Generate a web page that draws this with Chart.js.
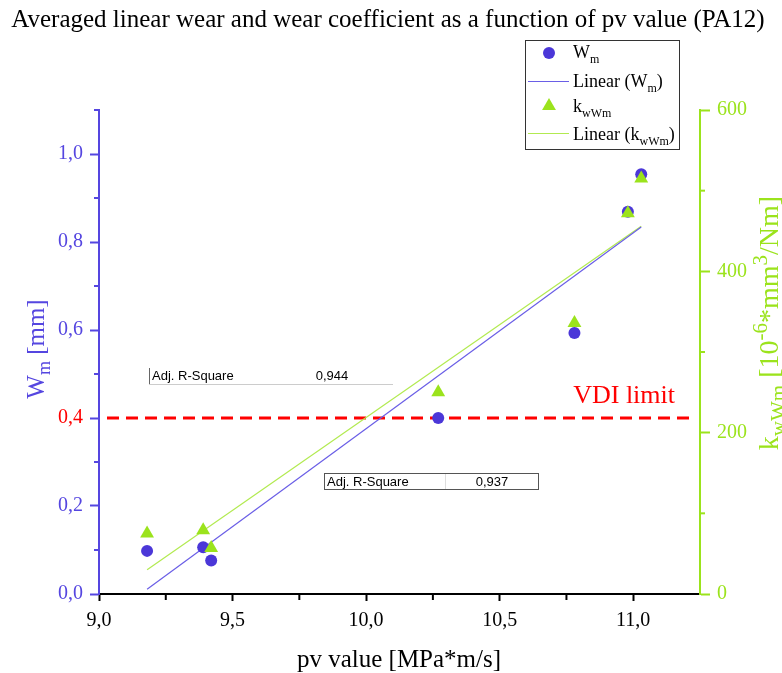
<!DOCTYPE html>
<html>
<head>
<meta charset="utf-8">
<script src="https://cdn.jsdelivr.net/npm/chart.js@4.4.0/dist/chart.umd.min.js"></script>
<style>
  html, body { margin: 0; padding: 0; background: #fff; }
  #wrap { width: 782px; height: 673px; }
</style>
</head>
<body>
<div id="wrap"><canvas id="chart" width="782" height="673"></canvas></div>
<script>
// values
const pvValues = [9.18, 9.39, 9.42, 10.27, 10.78, 10.98, 11.03];
const wearWm = [0.098, 0.106, 0.076, 0.400, 0.593, 0.869, 0.954];
const coeffK = [75, 79, 57, 250, 336, 472, 515];

// linear fits, end points as they are drawn
const fitX = [9.18, 11.03];
const fitWm = [0.011, 0.834];
const fitK = [30, 456];

const vdiLimit = 0.4;
const adjRSquare = ['0,944', '0,937'];

// tick labels
const xTicks = [9.0, 9.5, 10.0, 10.5, 11.0];
const xMinor = [9.25, 9.75, 10.25, 10.75];
const wmTicks = [0, 0.2, 0.4, 0.6, 0.8, 1.0];
const wmMinor = [0.1, 0.3, 0.5, 0.7, 0.9, 1.1];
const kTicks = [0, 200, 400, 600];
const kMinor = [100, 300, 500];

const blue = '#4b37d8';
const blueAxis = '#5546e0';
const blueLine = '#6a5ee6';
const green = '#9be31c';
const greenLine = '#b2ea50';
const red = '#ff0000';
const serif = '"Liberation Serif", "Times New Roman", serif';
const sans = '"Liberation Sans", Arial, sans-serif';

const fmt = (v) => v.toFixed(1).replace('.', ',');
const pts = (xs, ys) => xs.map((x, i) => ({ x: x, y: ys[i] }));

// draws text made of normal / sub / sup parts
const drawRich = (ctx, parts, x, y, size, color, align, ratio) => {
    const small = Math.round(size * (ratio || 0.65));
    const widths = parts.map(([t, k]) => {
        ctx.font = (k === 'n' ? size : small) + 'px ' + serif;
        return ctx.measureText(t).width;
    });
    const total = widths.reduce((a, b) => a + b, 0);
    let cx = align === 'center' ? x - total / 2 : x;
    ctx.fillStyle = color;
    ctx.textAlign = 'left';
    ctx.textBaseline = 'alphabetic';
    parts.forEach(([t, k], i) => {
        ctx.font = (k === 'n' ? size : small) + 'px ' + serif;
        const dy = k === 'sub' ? size * 0.25 : (k === 'sup' ? -size * 0.4 : 0);
        ctx.fillText(t, cx, y + dy);
        cx += widths[i];
    });
    return total;
};

const triangle = (ctx, x, y, r) => {
    ctx.beginPath();
    ctx.moveTo(x, y - r);
    ctx.lineTo(x + r * Math.sin(Math.PI / 3), y + r / 2);
    ctx.lineTo(x - r * Math.sin(Math.PI / 3), y + r / 2);
    ctx.closePath();
    ctx.fill();
};

const overlay = {
    id: 'overlay',
    beforeDatasetsDraw(chart) {
        const { ctx, chartArea, scales } = chart;
        const yy = scales.y.getPixelForValue(vdiLimit);
        ctx.save();
        ctx.strokeStyle = red;
        ctx.lineWidth = 3;
        ctx.setLineDash([12, 7]);
        ctx.beginPath();
        ctx.moveTo(chartArea.left + 8, yy);
        ctx.lineTo(chartArea.right - 9, yy);
        ctx.stroke();
        ctx.restore();
    },
    afterDraw(chart) {
        const { ctx, chartArea, scales } = chart;
        ctx.save();

        // minor ticks
        const minor = (scale, values, len, color, side) => {
            ctx.strokeStyle = color;
            ctx.lineWidth = 2;
            values.forEach((v) => {
                const p = scale.getPixelForValue(v);
                ctx.beginPath();
                if (side === 'bottom') { ctx.moveTo(p, chartArea.bottom); ctx.lineTo(p, chartArea.bottom + len); }
                if (side === 'left') { ctx.moveTo(chartArea.left, p); ctx.lineTo(chartArea.left - len, p); }
                if (side === 'right') { ctx.moveTo(chartArea.right, p); ctx.lineTo(chartArea.right + len, p); }
                ctx.stroke();
            });
        };
        minor(scales.x, xMinor, 6, '#000', 'bottom');
        minor(scales.y, wmMinor, 5, blueAxis, 'left');
        minor(scales.y1, kMinor, 5, green, 'right');

        // title
        ctx.fillStyle = '#000';
        ctx.font = '25px ' + serif;
        ctx.textAlign = 'center';
        ctx.textBaseline = 'alphabetic';
        ctx.fillText('Averaged linear wear and wear coefficient as a function of pv value (PA12)', 388, 27);

        // x axis title
        ctx.font = '25px ' + serif;
        ctx.fillText('pv value [MPa*m/s]', 399, 667);

        // left axis title
        ctx.save();
        ctx.translate(44, 349);
        ctx.rotate(-Math.PI / 2);
        drawRich(ctx, [['W', 'n'], ['m', 'sub'], [' [mm]', 'n']], 0, 0, 25, blueAxis, 'center', 0.7);
        ctx.restore();

        // right axis title
        ctx.save();
        ctx.translate(778, 323);
        ctx.rotate(-Math.PI / 2);
        drawRich(ctx, [['k', 'n'], ['wWm', 'sub'], [' [10', 'n'], ['-6', 'sup'], ['*mm', 'n'], ['3', 'sup'], ['/Nm]', 'n']], 0, 0, 28, green, 'center', 0.75);
        ctx.restore();

        // VDI label
        ctx.fillStyle = red;
        ctx.font = '26px ' + serif;
        ctx.textAlign = 'right';
        ctx.fillText('VDI limit', 675, 403);

        // legend box
        ctx.strokeStyle = '#333';
        ctx.lineWidth = 1;
        ctx.strokeRect(525.5, 40.5, 154, 109);
        ctx.fillStyle = blue;
        ctx.beginPath();
        ctx.arc(549, 53, 6, 0, Math.PI * 2);
        ctx.fill();
        ctx.fillStyle = green;
        triangle(ctx, 549, 106, 8);
        ctx.fillStyle = blueLine;
        ctx.fillRect(528, 81, 41, 1);
        ctx.fillStyle = greenLine;
        ctx.fillRect(528, 133, 41, 1);
        drawRich(ctx, [['W', 'n'], ['m', 'sub']], 573, 58, 18, '#000', 'left');
        drawRich(ctx, [['Linear (W', 'n'], ['m', 'sub'], [')', 'n']], 573, 87, 18, '#000', 'left');
        drawRich(ctx, [['k', 'n'], ['wWm', 'sub']], 573, 112, 18, '#000', 'left');
        drawRich(ctx, [['Linear (k', 'n'], ['wWm', 'sub'], [')', 'n']], 573, 140, 18, '#000', 'left');

        // Adj. R-Square boxes
        ctx.lineWidth = 1;
        ctx.font = '13px ' + sans;
        ctx.textAlign = 'left';
        ctx.fillStyle = '#000';
        ctx.strokeStyle = '#666';
        ctx.beginPath(); ctx.moveTo(149.5, 368); ctx.lineTo(149.5, 384); ctx.stroke();
        ctx.strokeStyle = '#ccc';
        ctx.beginPath(); ctx.moveTo(149, 384.5); ctx.lineTo(393, 384.5); ctx.stroke();
        ctx.fillText('Adj. R-Square', 152, 380);
        ctx.textAlign = 'center';
        ctx.fillText(adjRSquare[0], 332, 380);

        ctx.strokeStyle = '#555';
        ctx.strokeRect(324.5, 473.5, 214, 16);
        ctx.strokeStyle = '#ddd';
        ctx.beginPath(); ctx.moveTo(445.5, 474); ctx.lineTo(445.5, 489); ctx.stroke();
        ctx.textAlign = 'left';
        ctx.fillText('Adj. R-Square', 327, 486);
        ctx.textAlign = 'center';
        ctx.fillText(adjRSquare[1], 492, 486);

        ctx.restore();
    }
};

const ctx = document.getElementById('chart').getContext('2d');

new Chart(ctx, {
    type: 'scatter',
    data: {
        datasets: [
            {
                label: 'kwWm',
                data: pts(pvValues, coeffK),
                yAxisID: 'y1',
                pointStyle: 'triangle',
                pointRadius: 8,
                backgroundColor: green,
                borderColor: green,
                borderWidth: 0,
                order: 0
            },
            {
                label: 'Wm',
                data: pts(pvValues, wearWm),
                yAxisID: 'y',
                pointStyle: 'circle',
                pointRadius: 6,
                backgroundColor: blue,
                borderColor: blue,
                borderWidth: 0,
                order: 1
            },
            {
                type: 'line',
                label: 'Linear (Wm)',
                data: pts(fitX, fitWm),
                yAxisID: 'y',
                borderColor: blueLine,
                borderWidth: 1.2,
                pointRadius: 0,
                fill: false,
                order: 2
            },
            {
                type: 'line',
                label: 'Linear (kwWm)',
                data: pts(fitX, fitK),
                yAxisID: 'y1',
                borderColor: greenLine,
                borderWidth: 1.2,
                pointRadius: 0,
                fill: false,
                order: 3
            }
        ]
    },
    options: {
        responsive: false,
        animation: false,
        layout: { padding: { top: 110, left: 0, right: 0, bottom: 0 } },
        plugins: {
            legend: { display: false },
            title: { display: false },
            tooltip: { enabled: false }
        },
        scales: {
            x: {
                type: 'linear',
                position: 'bottom',
                min: 9,
                max: 11.25,
                afterBuildTicks: (s) => { s.ticks = xTicks.map((v) => ({ value: v })); },
                afterFit: (s) => { s.height = 79; },
                ticks: {
                    color: '#000',
                    font: { family: serif, size: 20 },
                    padding: 8,
                    maxRotation: 0,
                    callback: (v) => fmt(v)
                },
                grid: { drawOnChartArea: false, tickLength: 7, tickColor: '#000', tickWidth: 2 },
                border: { color: '#000', width: 2 }
            },
            y: {
                type: 'linear',
                position: 'left',
                min: 0,
                max: 1.1,
                afterBuildTicks: (s) => { s.ticks = wmTicks.map((v) => ({ value: v })); },
                afterFit: (s) => { s.width = 99; },
                ticks: {
                    color: (c) => Math.abs(c.tick.value - vdiLimit) < 1e-9 ? red : blueAxis,
                    font: { family: serif, size: 20 },
                    padding: 7,
                    callback: (v) => fmt(v)
                },
                grid: { drawOnChartArea: false, tickLength: 9, tickColor: blueAxis, tickWidth: 2 },
                border: { color: blueAxis, width: 2 }
            },
            y1: {
                type: 'linear',
                position: 'right',
                min: 0,
                max: 600,
                afterBuildTicks: (s) => { s.ticks = kTicks.map((v) => ({ value: v })); },
                afterFit: (s) => { s.width = 82; },
                ticks: {
                    color: green,
                    font: { family: serif, size: 20 },
                    padding: 7,
                    callback: (v) => String(v)
                },
                grid: { drawOnChartArea: false, tickLength: 10, tickColor: green, tickWidth: 2 },
                border: { color: green, width: 2 }
            }
        }
    },
    plugins: [overlay]
});
</script>
</body>
</html>
